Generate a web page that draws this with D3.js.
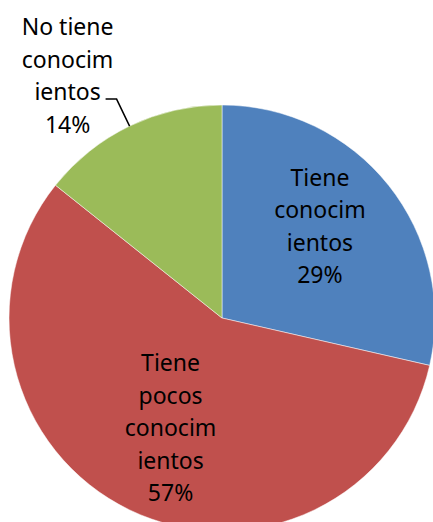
<!DOCTYPE html>
<html>
<head>
<meta charset="utf-8">
<script src="https://cdn.jsdelivr.net/npm/d3@7"></script>
<style>
  body { margin: 0; background: #fff; }
  svg { display: block; }
  .lbl { font-family: "Noto Sans", sans-serif; font-size: 23px; fill: #000; }
</style>
</head>
<body>
<div id="chart"></div>
<script>
// data (counts, shown as percentages)
const categories = ["Tiene conocimientos", "Tiene pocos conocimientos", "No tiene conocimientos"];
const values = [2, 4, 1];
const labelLines = [
    ["Tiene", "conocim", "ientos"],
    ["Tiene", "pocos", "conocim", "ientos"],
    ["No tiene", "conocim", "ientos"]
];
const colors = ["#4F81BD", "#C0504D", "#9BBB59"];

const width = 433, height = 522;
const cx = 222, cy = 318, radius = 213;
const lineH = 32.5;

const svg = d3.select("#chart").append("svg")
    .attr("width", width)
    .attr("height", height);

const g = svg.append("g").attr("transform", `translate(${cx}, ${cy})`);

const data = categories.map((c, i) => ({ name: c, value: values[i], lines: labelLines[i], color: colors[i] }));
const total = d3.sum(values);
const pct = d3.format(".0%");

const pie = d3.pie().value(d => d.value).sort(null);
const arc = d3.arc().innerRadius(0).outerRadius(radius);
const labelArc = d3.arc().innerRadius(radius * 0.6).outerRadius(radius * 0.6);

const arcs = pie(data);

g.selectAll("path.slice")
    .data(arcs)
    .enter()
    .append("path")
    .attr("class", "slice")
    .attr("d", arc)
    .attr("fill", d => d.data.color)
    .attr("stroke", "#fff")
    .attr("stroke-width", 0.5);

// labels
arcs.forEach((a, i) => {
    const lines = a.data.lines.concat([pct(a.data.value / total)]);
    let x, y;
    if (i < 2) {
        [x, y] = labelArc.centroid(a);
        x = x + (i == 0 ? -2 : 4);
        y = y - (lines.length - 1) * lineH / 2 + (i == 0 ? -4 : 3);
    } else {
        // outside label with leader line
        const mid = (a.startAngle + a.endAngle) / 2;
        const ex = radius * Math.sin(mid), ey = -radius * Math.cos(mid);
        const bx = ex - 13, by = ey - 27;
        g.append("polyline")
            .attr("points", `${ex},${ey} ${bx},${by} ${bx - 11},${by}`)
            .attr("fill", "none")
            .attr("stroke", "#000")
            .attr("stroke-width", 1.5);
        x = bx - 49;
        y = by - 64;
    }
    const t = g.append("text")
        .attr("class", "lbl")
        .attr("text-anchor", "middle");
    lines.forEach((ln, k) => {
        t.append("tspan")
            .attr("x", x)
            .attr("y", y + k * lineH)
            .text(ln);
    });
});
</script>
</body>
</html>
